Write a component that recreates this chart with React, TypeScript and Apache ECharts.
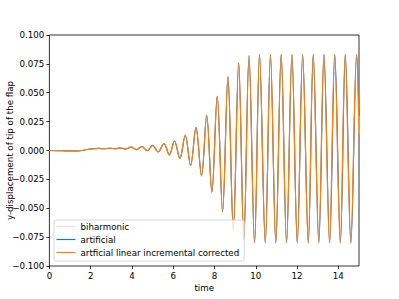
import React, { useEffect, useRef } from "react";
import * as echarts from "echarts";

// times (s) of extrema
const timesOrange = [
  0, 0.6, 1.2, 1.5, 1.9, 2.4, 2.66, 2.92, 3.18, 3.44, 3.7, 3.96, 4.22, 4.48, 4.74,
  5.0, 5.27, 5.55, 5.81, 6.06, 6.32, 6.58, 6.84, 7.1, 7.37, 7.62, 7.87, 8.13, 8.39,
  8.65, 8.91, 9.17, 9.42, 9.67, 9.94, 10.18, 10.46, 10.71, 10.97, 11.23, 11.49,
  11.75, 12.01, 12.27, 12.54, 12.78, 13.05, 13.3, 13.57, 13.82, 14.09, 14.33, 14.6,
  14.88, 15.0,
];
const valuesOrange = [
  0.0, -0.0002, -0.0004, -0.0002, 0.0011, 0.0018, 0.0015, 0.002, 0.0015, 0.0022,
  0.0013, 0.0029, 0.0008, 0.0034, -0.0002, 0.0044, -0.0012, 0.006, -0.0038, 0.0082,
  -0.0068, 0.0132, -0.013, 0.0198, -0.022, 0.0305, -0.036, 0.047, -0.053, 0.064,
  -0.069, 0.076, -0.077, 0.082, -0.08, 0.083, -0.08, 0.083, -0.08, 0.083, -0.08,
  0.083, -0.08, 0.083, -0.08, 0.083, -0.08, 0.083, -0.08, 0.083, -0.08, 0.083,
  -0.08, 0.083, 0.015,
];
const timesBlue = [
  0, 0.6, 1.2, 1.5, 1.9, 2.4, 2.66, 2.92, 3.18, 3.44, 3.7, 3.96, 4.22, 4.48, 4.74,
  5.0, 5.27, 5.55, 5.81, 6.06, 6.32, 6.58, 6.84, 7.1, 7.37, 7.62, 7.87, 8.13, 8.39,
  8.65, 8.91, 9.17, 9.42, 9.67, 9.94, 10.18, 10.46, 10.71, 10.97, 11.23, 11.49,
  11.75, 12.01, 12.27, 12.545, 12.785, 13.055, 13.305, 13.58, 13.83, 14.1, 14.34, 14.61,
  14.89, 15.0,
];
const valuesBlue = [
  0.0, -0.0002, -0.0004, -0.0002, 0.0011, 0.0018, 0.0015, 0.002, 0.0015, 0.0022,
  0.0013, 0.0029, 0.0008, 0.0034, -0.0002, 0.0044, -0.0012, 0.006, -0.0038, 0.0082,
  -0.0068, 0.0132, -0.013, 0.0198, -0.022, 0.0305, -0.036, 0.047, -0.053, 0.064,
  -0.069, 0.076, -0.077, 0.082, -0.08, 0.083, -0.08, 0.083, -0.08, 0.083, -0.08,
  0.083, -0.08, 0.083, -0.08, 0.083, -0.08, 0.083, -0.08, 0.083, -0.08, 0.083,
  -0.08, 0.083, 0.03,
];
const timesGray = timesOrange;
const valuesGray = valuesOrange;

const seriesNames = ["biharmonic", "artificial", "artficial linear incremental corrected"];
const xTickValues = [0, 2, 4, 6, 8, 10, 12, 14];

const pair = (ts: number[], vs: number[]) => ts.map((t, i) => [t, vs[i]]);

const FONT = "DejaVu Sans";
const FS = 8.7;

export default function App() {
  const ref = useRef<HTMLDivElement>(null);
  useEffect(() => {
    if (!ref.current) return;
    const chart = echarts.init(ref.current, undefined, { renderer: "svg" });
    const fmtY = (v: number) => {
      const r = Math.round(v * 1000) / 1000;
      if (r === 0) return "0.000";
      return (r < 0 ? "\u2212" : "") + Math.abs(r).toFixed(3);
    };
    chart.setOption({
      animation: false,
      backgroundColor: "#ffffff",
      grid: {
        left: 49.4,
        right: 40,
        top: 35,
        bottom: 33,
        show: true,
        borderColor: "#000",
        borderWidth: 0.8,
        backgroundColor: "transparent",
        containLabel: false,
        outerBoundsMode: "none",
      },
      legend: {
        orient: "vertical",
        left: 54,
        top: 220,
        icon: "rect",
        itemWidth: 19,
        itemHeight: 1.2,
        itemGap: 3,
        padding: [1.5, 5, 3.5, 2.5],
        backgroundColor: "rgba(255,255,255,0.8)",
        borderColor: "#cccccc",
        borderWidth: 0.8,
        borderRadius: 2,
        textStyle: { fontFamily: FONT, fontSize: FS, color: "#000", lineHeight: 10 },
        data: seriesNames,
      },
      xAxis: {
        type: "value",
        min: 0,
        max: 15,
        interval: 2,
        name: "time",
        nameLocation: "middle",
        nameGap: 17,
        nameMoveOverlap: false,
        nameTextStyle: { fontFamily: FONT, fontSize: FS, color: "#000" },
        axisLine: { show: false, onZero: false },
        splitLine: { show: false },
        axisTick: {
          show: true,
          length: 3,
          lineStyle: { color: "#000", width: 0.8 },
          customValues: xTickValues,
        },
        axisLabel: {
          fontFamily: FONT,
          fontSize: FS,
          color: "#000",
          margin: 5,
          customValues: xTickValues,
          formatter: (v: number) => String(v),
        },
      },
      yAxis: {
        type: "value",
        min: -0.1,
        max: 0.1,
        interval: 0.025,
        name: "y-displacement of tip of the flap",
        nameLocation: "middle",
        nameRotate: 90,
        nameGap: 35,
        nameMoveOverlap: false,
        nameTextStyle: { fontFamily: FONT, fontSize: FS, color: "#000" },
        axisLine: { show: false, onZero: false },
        splitLine: { show: false },
        axisTick: { show: true, length: 3, lineStyle: { color: "#000", width: 0.8 } },
        axisLabel: {
          fontFamily: FONT,
          fontSize: FS,
          color: "#000",
          margin: 5,
          formatter: fmtY,
        },
      },
      series: [
        {
          name: seriesNames[0],
          type: "line",
          data: pair(timesGray, valuesGray),
          symbol: "none",
          smooth: 0.36,
          lineStyle: { color: "#e0e0e0", width: 1.2 },
          itemStyle: { color: "#e0e0e0" },
        },
        {
          name: seriesNames[1],
          type: "line",
          data: pair(timesBlue, valuesBlue),
          symbol: "none",
          smooth: 0.36,
          lineStyle: { color: "#1f77b4", width: 1.1 },
          itemStyle: { color: "#1f77b4" },
        },
        {
          name: seriesNames[2],
          type: "line",
          data: pair(timesOrange, valuesOrange),
          symbol: "none",
          smooth: 0.36,
          lineStyle: { color: "#ff7f0e", width: 1.2 },
          itemStyle: { color: "#ff7f0e" },
        },
      ],
    });
    return () => chart.dispose();
  }, []);
  return (
    <div
      ref={ref}
      style={{ position: "fixed", left: 0, top: 0, width: 399, height: 299, background: "#fff" }}
    />
  );
}
